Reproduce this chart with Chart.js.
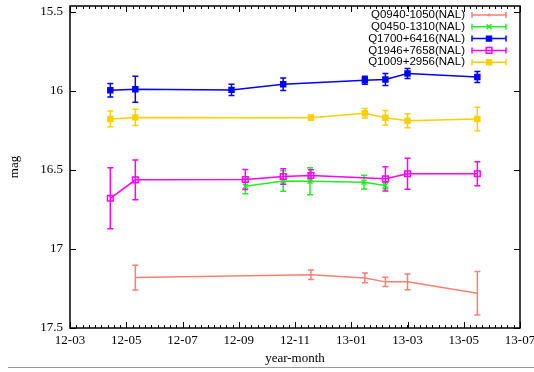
<!DOCTYPE html>
<html>
<head>
<meta charset="utf-8">
<script src="https://cdn.jsdelivr.net/npm/chart.js@4.4.0/dist/chart.umd.min.js"></script>
<style>
body { margin: 0; background: #fff; }
#wrap { position: relative; width: 534px; height: 372px; }
#rule { position: absolute; left: 8px; right: 0; top: 367px; border-top: 1px solid #999; }
</style>
</head>
<body>
<div id="wrap"><canvas id="chart" width="534" height="372"></canvas><div id="rule"></div></div>
<script>
// nombres de las series (orden de la leyenda)
const nombres = ['Q0940-1050(NAL)', 'Q0450-1310(NAL)', 'Q1700+6416(NAL)', 'Q1946+7658(NAL)', 'Q1009+2956(NAL)'];
const colores = ['#fa8072', '#22ee22', '#0000ff', '#ff00ff', '#ffd000'];

const fechasQ0940 = ['2012-05-11', '2012-11-18', '2013-01-16', '2013-02-07', '2013-03-01', '2013-05-16'];
const magQ0940 = [17.181, 17.163, 17.183, 17.208, 17.208, 17.280];
const errQ0940 = [0.078, 0.030, 0.031, 0.029, 0.050, 0.137];

const fechasQ0450 = ['2012-09-08', '2012-10-19', '2012-11-17', '2013-01-15', '2013-02-07'];
const magQ0450 = [16.603, 16.569, 16.571, 16.577, 16.598];
const errQ0450 = [0.047, 0.065, 0.085, 0.044, 0.020];

const fechasQ1700 = ['2012-04-14', '2012-05-11', '2012-08-24', '2012-10-19', '2013-01-16', '2013-02-07', '2013-03-01', '2013-05-16'];
const magQ1700 = [15.995, 15.989, 15.993, 15.957, 15.932, 15.927, 15.889, 15.911];
const errQ1700 = [0.043, 0.082, 0.035, 0.040, 0.025, 0.038, 0.032, 0.035];

const fechasQ1946 = ['2012-04-14', '2012-05-11', '2012-09-08', '2012-10-19', '2012-11-18', '2013-02-07', '2013-03-01', '2013-05-16'];
const magQ1946 = [16.679, 16.562, 16.560, 16.541, 16.535, 16.556, 16.524, 16.524];
const errQ1946 = [0.193, 0.126, 0.063, 0.049, 0.037, 0.077, 0.098, 0.076];

const fechasQ1009 = ['2012-04-14', '2012-05-11', '2012-11-18', '2013-01-16', '2013-02-07', '2013-03-01', '2013-05-16'];
const magQ1009 = [16.177, 16.167, 16.169, 16.141, 16.169, 16.188, 16.177];
const errQ1009 = [0.050, 0.052, 0.015, 0.030, 0.046, 0.044, 0.074];

const ticksMag = [15.5, 16, 16.5, 17, 17.5];

// eje x: meses contados desde 2012-03
function aMes(fecha) {
    const [a, m, d] = fecha.split('-').map(Number);
    const dias = new Date(a, m, 0).getDate();
    return (a - 2012) * 12 + (m - 3) + (d - 1) / dias;
}
function etiquetaMes(v) {
    const t = Math.round(v) + 2;
    const anio = 12 + Math.floor(t / 12);
    const mes = (t % 12) + 1;
    return anio + '-' + String(mes).padStart(2, '0');
}
function puntos(fechas, mags, errs) {
    return fechas.map((f, i) => ({ x: aMes(f), y: mags[i], err: errs[i] }));
}

const estilos = [
    { pointStyle: 'circle', pointRadius: 0 },
    { pointStyle: 'crossRot', pointRadius: 3.5 },
    { pointStyle: 'rect', pointRadius: 3.5 },
    { pointStyle: 'rect', pointRadius: 4, fill: false },
    { pointStyle: 'rect', pointRadius: 3.5 }
];
const series = [
    puntos(fechasQ0940, magQ0940, errQ0940),
    puntos(fechasQ0450, magQ0450, errQ0450),
    puntos(fechasQ1700, magQ1700, errQ1700),
    puntos(fechasQ1946, magQ1946, errQ1946),
    puntos(fechasQ1009, magQ1009, errQ1009)
];

const datasets = series.map((data, i) => ({
    label: nombres[i],
    data: data,
    borderColor: colores[i],
    backgroundColor: estilos[i].fill === false ? 'rgba(0,0,0,0)' : colores[i],
    pointBorderColor: colores[i],
    borderWidth: 1.5,
    pointBorderWidth: 1.5,
    pointStyle: estilos[i].pointStyle,
    pointRadius: estilos[i].pointRadius,
    tension: 0,
    order: -i
}));

const serif = '"Liberation Serif", "Times New Roman", serif';

const barrasError = {
    id: 'barrasError',
    beforeDatasetsDraw(chart) {
        const ctx = chart.ctx, sx = chart.scales.x, sy = chart.scales.y;
        chart.data.datasets.forEach(ds => {
            ctx.save();
            ctx.strokeStyle = ds.borderColor;
            ctx.lineWidth = 1.5;
            ds.data.forEach(p => {
                const px = sx.getPixelForValue(p.x);
                const y1 = sy.getPixelForValue(p.y - p.err);
                const y2 = sy.getPixelForValue(p.y + p.err);
                ctx.beginPath();
                ctx.moveTo(px, y1); ctx.lineTo(px, y2);
                ctx.moveTo(px - 3, y1); ctx.lineTo(px + 3, y1);
                ctx.moveTo(px - 3, y2); ctx.lineTo(px + 3, y2);
                ctx.stroke();
            });
            ctx.restore();
        });
    }
};

const marco = {
    id: 'marco',
    afterDraw(chart) {
        const ctx = chart.ctx, a = chart.chartArea, sx = chart.scales.x, sy = chart.scales.y;
        ctx.save();
        ctx.strokeStyle = '#000';
        ctx.lineWidth = 1;
        ctx.beginPath();
        // marcas menores en x
        for (let v = sx.min; v <= sx.max + 1e-6; v += 2 / 9) {
            const px = Math.round(sx.getPixelForValue(v)) + 0.5;
            ctx.moveTo(px, a.bottom); ctx.lineTo(px, a.bottom - 3);
            ctx.moveTo(px, a.top); ctx.lineTo(px, a.top + 3);
        }
        sx.ticks.forEach(t => {
            const px = Math.round(sx.getPixelForValue(t.value)) + 0.5;
            ctx.moveTo(px, a.bottom); ctx.lineTo(px, a.bottom - 6);
            ctx.moveTo(px, a.top); ctx.lineTo(px, a.top + 6);
        });
        sy.ticks.forEach(t => {
            const py = Math.round(sy.getPixelForValue(t.value)) + 0.5;
            ctx.moveTo(a.left, py); ctx.lineTo(a.left + 6, py);
            ctx.moveTo(a.right, py); ctx.lineTo(a.right - 6, py);
        });
        ctx.stroke();
        ctx.lineWidth = 1.5;
        ctx.strokeRect(a.left, a.top, a.right - a.left, a.bottom - a.top);

        // leyenda
        ctx.font = '11.5px "Liberation Sans", Arial, sans-serif';
        ctx.textAlign = 'right';
        ctx.textBaseline = 'middle';
        chart.data.datasets.forEach((ds, i) => {
            const y = 15 + i * 11.8;
            ctx.fillStyle = '#000';
            ctx.fillText(ds.label, 465, y);
            ctx.strokeStyle = ds.borderColor;
            ctx.lineWidth = 1.5;
            ctx.beginPath();
            ctx.moveTo(472, y); ctx.lineTo(506, y);
            ctx.moveTo(472, y - 3); ctx.lineTo(472, y + 3);
            ctx.moveTo(506, y - 3); ctx.lineTo(506, y + 3);
            if (ds.pointRadius === 0) { ctx.moveTo(489, y - 1.5); ctx.lineTo(489, y + 1.5); }
            ctx.stroke();
            if (ds.pointRadius > 0) {
                ctx.fillStyle = ds.backgroundColor;
                Chart.helpers.drawPoint(ctx, { pointStyle: ds.pointStyle, radius: ds.pointRadius, rotation: 0, borderWidth: 1.5 }, 489, y);
            }
        });
        ctx.restore();
    }
};

new Chart(document.getElementById('chart').getContext('2d'), {
    type: 'line',
    data: { datasets: datasets },
    plugins: [barrasError, marco],
    options: {
        responsive: false,
        animation: false,
        layout: { padding: { top: 6, right: 14, left: 0, bottom: 0 } },
        plugins: { legend: { display: false }, tooltip: { enabled: false } },
        scales: {
            x: {
                type: 'linear',
                min: 0,
                max: 16,
                grid: { display: false, drawTicks: false },
                border: { display: false },
                ticks: {
                    stepSize: 2,
                    padding: 5,
                    color: '#000',
                    maxRotation: 0,
                    font: { family: serif, size: 13 },
                    callback: v => etiquetaMes(v)
                },
                title: { display: true, text: 'year-month', color: '#000', font: { family: serif, size: 13 }, padding: { top: 0, bottom: 6 } },
                afterFit: s => { s.height = 44; s.paddingLeft = 0; s.paddingRight = 0; }
            },
            y: {
                reverse: true,
                min: 15.462,
                max: 17.5,
                grid: { display: false, drawTicks: false },
                border: { display: false },
                afterBuildTicks: s => { s.ticks = ticksMag.map(v => ({ value: v })); },
                ticks: {
                    padding: 7,
                    color: '#000',
                    font: { family: serif, size: 13 },
                    callback: v => String(v)
                },
                title: { display: true, text: 'mag', color: '#000', font: { family: serif, size: 13 }, padding: { top: 7, bottom: 0 } },
                afterFit: s => { s.width = 70; s.paddingTop = 0; s.paddingBottom = 0; }
            }
        }
    }
});
</script>
</body>
</html>
